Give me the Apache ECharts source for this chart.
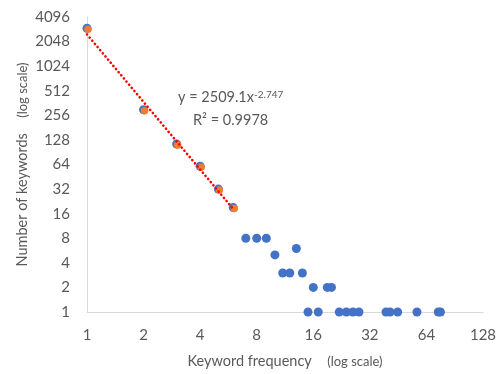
<!DOCTYPE html>
<html>
<head>
<meta charset="utf-8">
<script src="https://cdn.jsdelivr.net/npm/echarts@6/dist/echarts.min.js"></script>
<style>
html,body{margin:0;padding:0;background:#fff;}
#chart{width:500px;height:374px;}
</style>
</head>
<body>
<div id="chart"></div>
<script>
// Keyword frequency (x) and number of keywords (y)
const freqX  = [1, 2, 3, 4, 5, 6, 7, 8, 9, 10, 11, 12, 13, 14, 16, 19, 20, 15, 17, 22, 24, 26, 28, 39, 41, 45, 57, 74, 76];
const countY = [2980, 300, 114, 61, 32, 19, 8, 8, 8, 5, 3, 3, 6, 3, 2, 2, 2, 1, 1, 1, 1, 1, 1, 1, 1, 1, 1, 1, 1];
// Points used for the power fit
const fitX = [1, 2, 3, 4, 5, 6];
const fitY = [2980, 300, 114, 61, 32, 19];
// Power trendline y = a * x^b over the fitted range
const trendA = 2509.1;
const trendB = -2.747;
const trendRange = [1, 6];
const r2Text = '0.9978';
// Tick labels
const xTicks = [1, 2, 4, 8, 16, 32, 64, 128];
const yTicks = [1, 2, 4, 8, 16, 32, 64, 128, 256, 512, 1024, 2048, 4096];

const blueData = freqX.map((x, i) => [x, countY[i]]);
const orangeData = fitX.map((x, i) => [x, fitY[i]]);
const trendData = trendRange.map(x => [x, trendA * Math.pow(x, trendB)]);

const txt = '#595959';
const font = 'Lato';
const plainNum = v => String(Math.round(v));
const nameRich = {
  a: {fontSize: 14.5, color: txt, fontFamily: font},
  b: {fontSize: 13, color: txt, fontFamily: font}
};
const chart = echarts.init(document.getElementById('chart'));
chart.setOption({
  animation: false,
  backgroundColor: '#fff',
  grid: {left: 87, right: 17, top: 17, bottom: 61},
  xAxis: {
    type: 'log', logBase: 2,
    min: xTicks[0], max: xTicks[xTicks.length - 1],
    splitNumber: xTicks.length - 1, interval: 1,
    axisLine: {lineStyle: {color: '#D9D9D9', width: 1}},
    axisTick: {show: false},
    splitLine: {show: false},
    axisLabel: {color: txt, fontFamily: font, fontSize: 15, margin: 16, formatter: plainNum},
    name: '{a|Keyword frequency}     {b|(log scale)}',
    nameLocation: 'middle', nameGap: 42,
    nameTextStyle: {color: txt, fontFamily: font, rich: nameRich}
  },
  yAxis: {
    type: 'log', logBase: 2,
    min: yTicks[0], max: yTicks[yTicks.length - 1],
    splitNumber: yTicks.length - 1, interval: 1,
    axisLine: {show: true, lineStyle: {color: '#D9D9D9', width: 1}},
    axisTick: {show: false},
    splitLine: {show: false},
    axisLabel: {color: txt, fontFamily: font, fontSize: 15, margin: 17, formatter: plainNum},
    name: '{a|Number of keywords}     {b|(log scale)}',
    nameLocation: 'middle', nameGap: 57, nameMoveOverlap: false,
    nameTextStyle: {color: txt, fontFamily: font, rich: nameRich}
  },
  series: [
    {
      type: 'scatter', data: blueData, symbol: 'circle', symbolSize: 9,
      itemStyle: {color: '#4472C4', opacity: 1}, z: 2
    },
    {
      type: 'scatter', data: orangeData, symbol: 'circle', symbolSize: 7.5,
      symbolOffset: [1, 1],
      itemStyle: {color: '#ED7D31', opacity: 1}, z: 3
    },
    {
      type: 'line', data: trendData, symbol: 'none',
      lineStyle: {color: '#FF0000', width: 2.6, type: [0.1, 4], cap: 'round'}, z: 4
    }
  ],
  graphic: [
    {
      type: 'text', left: 178, top: 90, z: 10,
      style: {
        text: '{a|y = ' + trendA + 'x}{s|' + trendB + '}',
        rich: {
          a: {fontSize: 14.5, fill: txt, fontFamily: font, verticalAlign: 'bottom'},
          s: {fontSize: 10, fill: txt, fontFamily: font, verticalAlign: 'top'}
        }
      }
    },
    {
      type: 'text', left: 193, top: 113, z: 10,
      style: {text: 'R\u00B2 = ' + r2Text, fontSize: 14.5, fill: txt, fontFamily: font}
    }
  ]
});
</script>
</body>
</html>
